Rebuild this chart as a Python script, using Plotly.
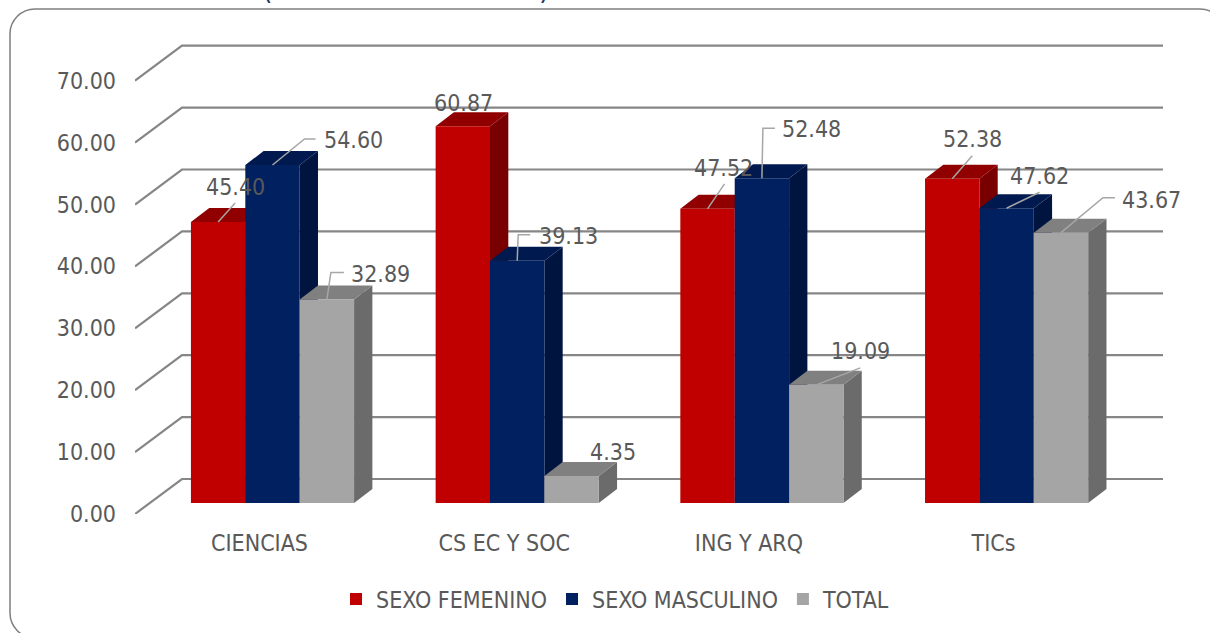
import plotly.graph_objects as go

categories = ["CIENCIAS", "CS EC Y SOC", "ING Y ARQ", "TICs"]
series_names = ["SEXO FEMENINO", "SEXO MASCULINO", "TOTAL"]
femenino = [45.40, 60.87, 47.52, 52.38]
masculino = [54.60, 39.13, 52.48, 47.62]
total = [32.89, 4.35, 19.09, 43.67]
tick_values = [0, 10, 20, 30, 40, 50, 60, 70]

values = [femenino, masculino, total]
front_colors = ["#C00000", "#002060", "#A5A5A5"]
top_colors = ["#900000", "#001A50", "#808080"]
side_colors = ["#780000", "#001440", "#6B6B6B"]
TEXT = "#595959"
FONT = "DejaVu Sans Condensed"

W, H = 1210, 633
L, R, T, B = 135, 1163, 40, 514
PX_X = 244.7
PX_Y = 6.19
X0_PX, Y0_PX = 272.5, 503
DEPTH_X, DEPTH_Y = 18.3, 14
GRID_DX, GRID_DY = 47, 35
BAR_W = 2 / 3 / 3

x_range = [(L - X0_PX) / PX_X, (R - X0_PX) / PX_X]
y_range = [(Y0_PX - B) / PX_Y, (Y0_PX - T) / PX_Y]


def dx(px):
    return px / PX_X


def dy(px):
    return px / PX_Y


def pap_x(px):
    return (px - L) / (R - L)


def pap_y(py):
    return (B - py) / (B - T)


fig = go.Figure()

# back wall and left wall gridlines
gx, gy = [], []
for v in tick_values:
    gx += [x_range[0], x_range[0] + dx(GRID_DX), x_range[1], None]
    base = v - dy(11)
    gy += [base, base + dy(GRID_DY), base + dy(GRID_DY), None]
fig.add_trace(go.Scatter(x=gx, y=gy, mode="lines", line=dict(color="#868686", width=2.2),
                         showlegend=False, hoverinfo="skip", cliponaxis=False))

# side and top faces, painted series by series
for s, vals in enumerate(values):
    for i, v in enumerate(vals):
        right = i + (s - 1) * BAR_W + BAR_W / 2
        left = right - BAR_W
        ddx, ddy = dx(DEPTH_X), dy(DEPTH_Y)
        fig.add_trace(go.Scatter(
            x=[right, right + ddx, right + ddx, right, right],
            y=[0, ddy, v + ddy, v, 0],
            mode="lines", fill="toself", fillcolor=side_colors[s],
            line=dict(width=0, color=side_colors[s]),
            showlegend=False, hoverinfo="skip"))
        fig.add_trace(go.Scatter(
            x=[left, left + ddx, right + ddx, right, left],
            y=[v, v + ddy, v + ddy, v, v],
            mode="lines", fill="toself", fillcolor=top_colors[s],
            line=dict(width=0, color=top_colors[s]),
            showlegend=False, hoverinfo="skip"))

# front faces, on an overlaying subplot so they cover the faces behind them
for s, vals in enumerate(values):
    fig.add_trace(go.Bar(x=list(range(len(categories))), y=vals, name=series_names[s],
                         marker=dict(color=front_colors[s], line=dict(width=0)),
                         xaxis="x2", yaxis="y2"))

# label placement: (dx, dy) px from the top centre of each bar's front face, and leader bends
label_offset = {
    (0, 0): (17, -35), (0, 1): (81, -25), (0, 2): (54, -25),
    (1, 0): (1, -23), (1, 1): (51, -25), (1, 2): (41, -24),
    (2, 0): (16, -41), (2, 1): (50, -49), (2, 2): (44, -34),
    (3, 0): (20, -40), (3, 1): (33, -32), (3, 2): (91, -33),
}
leader_bends = {
    (0, 0): [(17, -19)], (0, 1): [(32, -26), (43, -26)], (0, 2): [(4, -27), (17, -27)],
    (1, 1): [(1, -26), (13, -26)],
    (2, 0): [(17, -25)], (2, 1): [(1, -50), (13, -50)], (2, 2): [(44, -17)],
    (3, 0): [(20, -23)], (3, 1): [(33, -16)], (3, 2): [(42, -35), (54, -35)],
}
lx, ly = [], []
for s, vals in enumerate(values):
    for i, v in enumerate(vals):
        cx = i + (s - 1) * BAR_W
        if (i, s) in leader_bends:
            lx.append(cx)
            ly.append(v)
            for ox, oy in leader_bends[(i, s)]:
                lx.append(cx + dx(ox))
                ly.append(v - dy(oy))
            lx.append(None)
            ly.append(None)
        ox, oy = label_offset[(i, s)]
        fig.add_annotation(x=cx, y=v, xref="x2", yref="y2", text=f"{v:.2f}", showarrow=False,
                           xshift=ox, yshift=-oy, xanchor="center", yanchor="middle",
                           font=dict(family=FONT, size=23, color=TEXT))
fig.add_trace(go.Scatter(x=lx, y=ly, mode="lines", line=dict(color="#A6A6A6", width=1.5),
                         xaxis="x2", yaxis="y2", showlegend=False, hoverinfo="skip",
                         cliponaxis=False))

# rounded outer border, running past the right and bottom edges of the page
bl, bt, br, bb, rad = 10, 9, 1225, 638, 25
k = rad * 0.45
p = lambda x, y: f"{pap_x(x):.5f},{pap_y(y):.5f}"
border = (
    f"M{p(bl + rad, bt)} L{p(br - rad, bt)} C{p(br - k, bt)} {p(br, bt + k)} {p(br, bt + rad)} "
    f"L{p(br, bb - rad)} C{p(br, bb - k)} {p(br - k, bb)} {p(br - rad, bb)} "
    f"L{p(bl + rad, bb)} C{p(bl + k, bb)} {p(bl, bb - k)} {p(bl, bb - rad)} "
    f"L{p(bl, bt + rad)} C{p(bl, bt + k)} {p(bl + k, bt)} {p(bl + rad, bt)} Z"
)
fig.add_shape(type="path", path=border, xref="paper", yref="paper",
              line=dict(color="#7F7F7F", width=1.5), layer="below")

# cropped title brackets at the top edge
for txt, px in (("(", 267), (")", 544)):
    fig.add_annotation(x=pap_x(px), y=pap_y(-12), xref="paper", yref="paper", text=txt,
                       showarrow=False, xanchor="center", yanchor="middle",
                       font=dict(family=FONT, size=30, color="#1F3864"))

axis_off = dict(visible=False, fixedrange=True)
fig.update_layout(
    width=W, height=H,
    margin=dict(l=L, r=W - R, t=T, b=H - B, autoexpand=False),
    paper_bgcolor="white", plot_bgcolor="white",
    barmode="group", bargap=1 / 3, bargroupgap=0,
    font=dict(family=FONT, size=23, color=TEXT),
    xaxis=dict(range=x_range, tickmode="array", tickvals=list(range(len(categories))),
               ticktext=categories, showgrid=False, zeroline=False, showline=False,
               ticks="", ticklabelshift=-13, ticklabelstandoff=13,
               tickfont=dict(family=FONT, size=23, color=TEXT)),
    yaxis=dict(range=y_range, tickmode="array", tickvals=tick_values, tickformat=".2f",
               showgrid=False, zeroline=False, showline=False, ticks="",
               ticklabelshift=11, ticklabelstandoff=18,
               tickfont=dict(family=FONT, size=23, color=TEXT)),
    xaxis2=dict(range=x_range, overlaying="x", **axis_off),
    yaxis2=dict(range=y_range, overlaying="y", **axis_off),
    legend=dict(orientation="h", x=pap_x(336), xanchor="left", y=pap_y(599), yanchor="middle",
                traceorder="normal", font=dict(family=FONT, size=23, color=TEXT),
                bgcolor="rgba(0,0,0,0)", itemclick=False, itemdoubleclick=False),
)

fig.write_html("out.html", config=dict(displayModeBar=False),
               post_script="document.body.style.margin='0';document.body.style.overflow='hidden';")
